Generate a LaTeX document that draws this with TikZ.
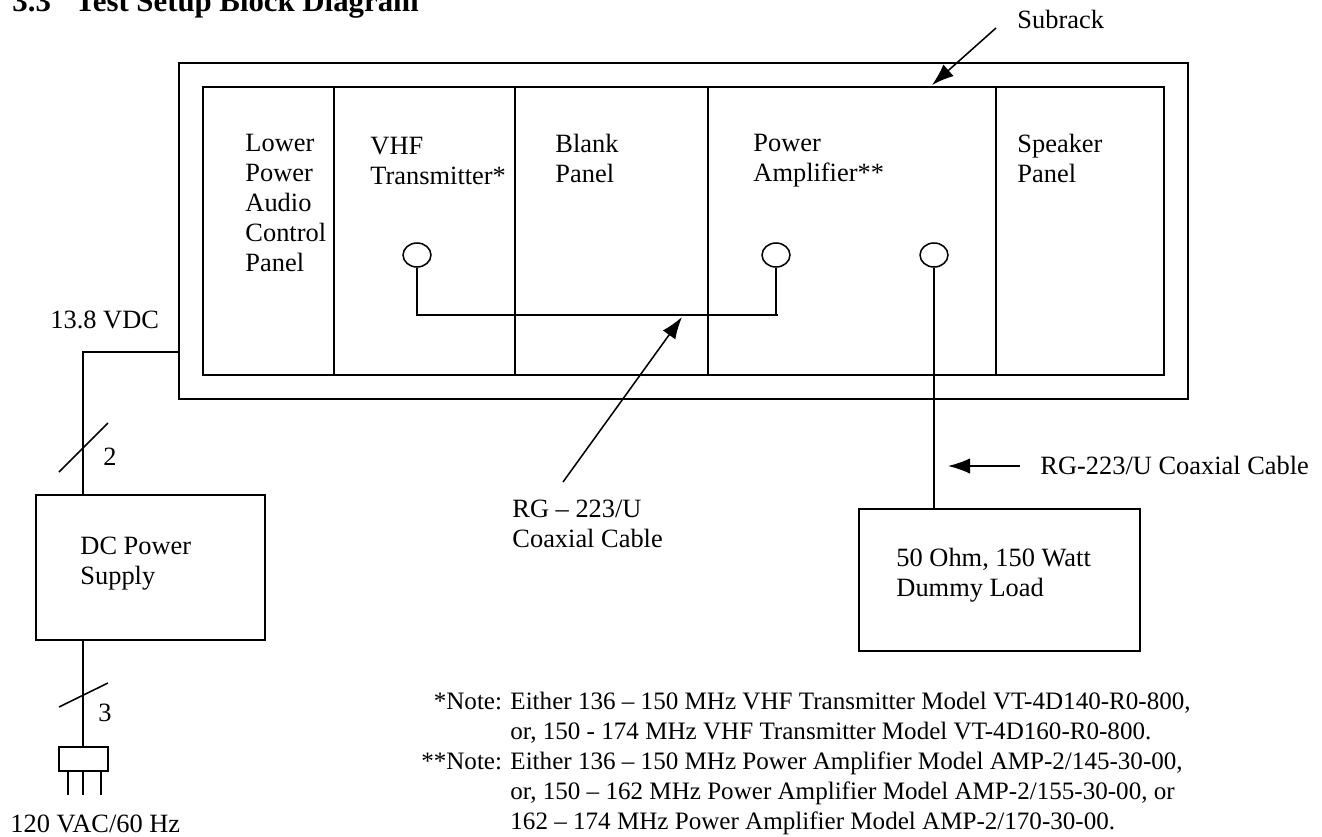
\documentclass[tikz,border=0pt]{standalone}
\usepackage{fontspec}
\setmainfont{Liberation Serif}
\usetikzlibrary{arrows.meta,fit,shapes.geometric}

\tikzset{
  wire/.style={line width=0.7pt},
  box/.style={draw, line width=0.7pt, inner sep=0pt},
  lbl/.style={anchor=north west, inner sep=0pt, align=left,
              font=\fontsize{12}{13.6}\selectfont},
  notelbl/.style={lbl, font=\fontsize{11.4}{13.6}\selectfont},
  pointer/.style={line width=0.7pt, -{Latex[length=10pt,width=7pt]}},
  jack/.style={draw, ellipse, line width=0.7pt, inner sep=0pt,
               minimum width=12.7pt, minimum height=10.9pt}
}

\begin{document}
\begin{tikzpicture}[x=0.4545pt, y=-0.4545pt]
\useasboundingbox (0,0) rectangle (1322,836);

% title
\node[anchor=base west, inner sep=0pt, font=\fontsize{14}{16}\selectfont\bfseries]
  (title) at (12,12) {3.3\hspace{11pt}Test Setup Block Diagram};

% subrack and panels
\node[box, fit={(179,63) (1188,399)}] (rack) {};
\node[box, fit={(203,87) (1164,375)}] (inner) {};
\foreach \x in {334,515,708,996}
  \draw[wire] (\x,0 |- inner.north) -- (\x,0 |- inner.south);

\node[lbl] (lpac) at (245,134) {Lower\\Power\\Audio\\Control\\Panel};
\node[lbl] (vhf) at (370,137) {VHF\\Transmitter*};
\node[lbl] (blank) at (555,134) {Blank\\Panel};
\node[lbl] (pamp) at (753,134) {Power\\Amplifier**};
\node[lbl] (spk) at (1017,134) {Speaker\\Panel};

% connectors on the panels
\node[jack] (txjack) at (417,255) {};
\node[jack] (pain) at (776,255) {};
\node[jack] (paout) at (934,255) {};
\coordinate (cableL) at (417,315);
\coordinate (cableR) at (778,315);
\draw[wire] (txjack.south) -- (cableL) -- (cableR);
\draw[wire] (pain.south) -- (pain.south |- cableR);

% subrack pointer
\node[lbl] (subrack) at (1017,10) {Subrack};
\coordinate (subtail) at (996,28);
\coordinate (subtip) at (932,85);
\draw[pointer] (subtail) -- (subtip);

% coax pointer to the jumper
\node[lbl] (coaxA) at (512,500) {RG -- 223/U\\Coaxial Cable};
\coordinate (coaxtail) at (563,482);
\coordinate (coaxtip) at (682,317);
\draw[pointer] (coaxtail) -- (coaxtip);

% dummy load
\node[box, fit={(859,509) (1140,651)}] (load) {};
\node[lbl] (loadtxt) at (896,548) {50 Ohm, 150 Watt\\Dummy Load};
\draw[wire] (paout.south) -- (load.north -| paout);
\node[lbl] (coaxB) at (1040,456) {RG-223/U Coaxial Cable};
\coordinate (coaxBtail) at (1020,466);
\coordinate (coaxBtip) at (948,466);
\draw[pointer] (coaxBtail) -- (coaxBtip);

% power supply
\node[box, fit={(36,495) (265,640)}] (dcps) {};
\node[lbl] (dctxt) at (80,537) {DC Power\\Supply};
\node[lbl] (vdc) at (50,310) {13.8 VDC};
\coordinate (bend) at (83,352);
\draw[wire] (rack.west |- bend) -- (bend) -- (dcps.north -| bend);
\draw[wire] (59,472) -- (108,423);
\node[lbl] (two) at (103,448) {2};

% mains plug
\node[box, fit={(59,747) (108,771)}] (plug) {};
\draw[wire] (dcps.south -| bend) -- (plug.north -| bend);
\draw[wire] (59,707) -- (108,683);
\node[lbl] (three) at (98,704) {3};
\foreach \x in {68,83,101}
  \draw[wire] (\x,0 |- plug.south) -- (\x,795);
\node[lbl] (mains) at (10,814) {120 VAC/60 Hz};

% notes
\node[notelbl] (notes) at (510,688) {\begin{tabular}{@{}l@{}}
  \llap{*Note: }Either 136 -- 150 MHz VHF Transmitter Model VT-4D140-R0-800,\\
  or, 150 - 174 MHz VHF Transmitter Model VT-4D160-R0-800.\\
  \llap{**Note: }Either 136 -- 150 MHz Power Amplifier Model AMP-2/145-30-00,\\
  or, 150 -- 162 MHz Power Amplifier Model AMP-2/155-30-00, or\\
  162 -- 174 MHz Power Amplifier Model AMP-2/170-30-00.
\end{tabular}};
\end{tikzpicture}
\end{document}
